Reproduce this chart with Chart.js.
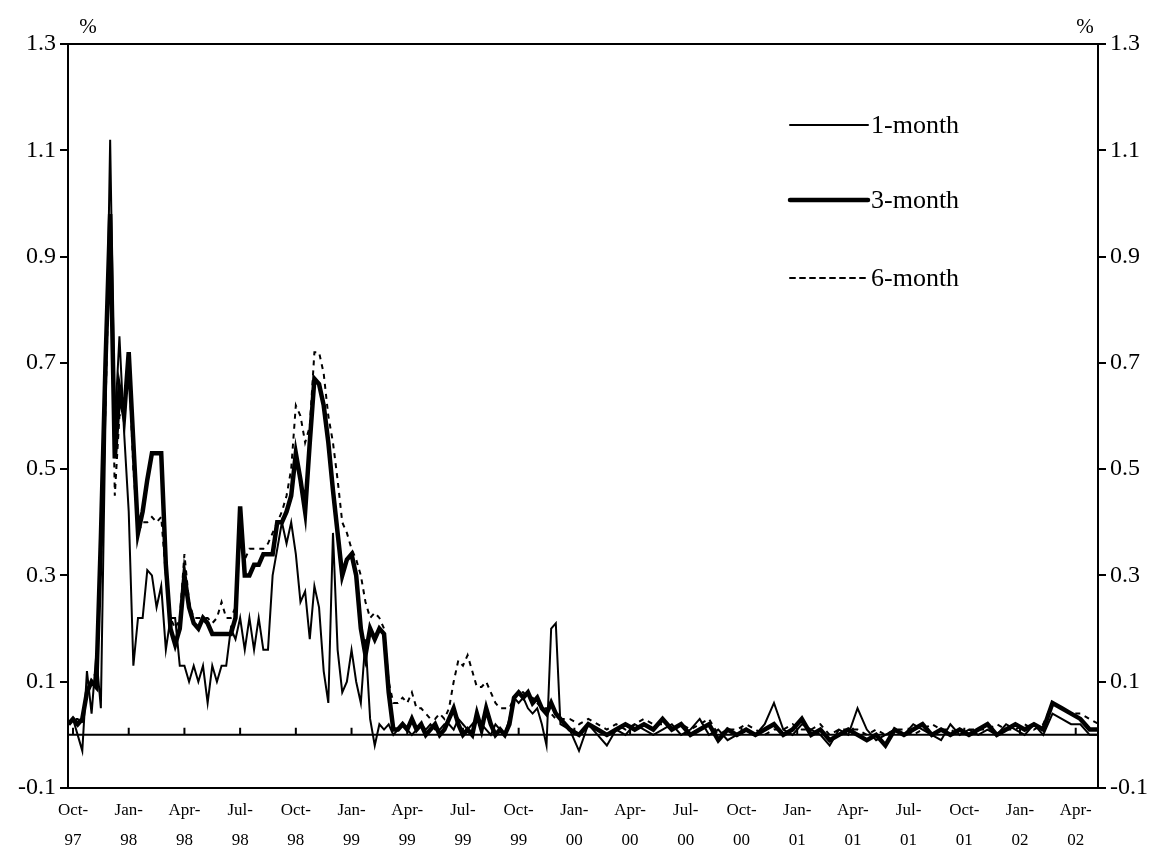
<!DOCTYPE html>
<html>
<head>
<meta charset="utf-8">
<script src="https://cdn.jsdelivr.net/npm/chart.js@4.4.1/dist/chart.umd.min.js"></script>
<style>
  html, body { margin: 0; padding: 0; background: #fff; }
  #wrap { width: 1162px; height: 853px; }
</style>
</head>
<body>
<div id="wrap"><canvas id="chart" width="1162" height="853"></canvas></div>
<script>
// x positions in months since 1 Oct 1997 (weekly-ish to Jan-00, then fortnightly)
const months = [
  -0.25, 0, 0.25, 0.5, 0.75, 1, 1.25, 1.5, 1.75, 2, 2.25, 2.5, 2.75,
  3, 3.25, 3.5, 3.75, 4, 4.25, 4.5, 4.75, 5, 5.25, 5.5, 5.75,
  6, 6.25, 6.5, 6.75, 7, 7.25, 7.5, 7.75, 8, 8.25, 8.5, 8.75,
  9, 9.25, 9.5, 9.75, 10, 10.25, 10.5, 10.75, 11, 11.25, 11.5, 11.75,
  12, 12.25, 12.5, 12.75, 13, 13.25, 13.5, 13.75, 14, 14.25, 14.5, 14.75,
  15, 15.25, 15.5, 15.75, 16, 16.25, 16.5, 16.75, 17, 17.25, 17.5, 17.75,
  18, 18.25, 18.5, 18.75, 19, 19.25, 19.5, 19.75, 20, 20.25, 20.5, 20.75,
  21, 21.25, 21.5, 21.75, 22, 22.25, 22.5, 22.75, 23, 23.25, 23.5, 23.75,
  24, 24.25, 24.5, 24.75, 25, 25.25, 25.5, 25.75, 26, 26.25,
  26.75, 27.25, 27.75, 28.25, 28.75, 29.25, 29.75, 30.25, 30.75, 31.25,
  31.75, 32.25, 32.75, 33.25, 33.75, 34.25, 34.75, 35.25, 35.75, 36.25,
  36.75, 37.25, 37.75, 38.25, 38.75, 39.25, 39.75, 40.25, 40.75, 41.25,
  41.75, 42.25, 42.75, 43.25, 43.75, 44.25, 44.75, 45.25, 45.75, 46.25,
  46.75, 47.25, 47.75, 48.25, 48.75, 49.25, 49.75, 50.25, 50.75, 51.25,
  51.75, 52.25, 52.75, 53.25, 53.75, 54.25, 54.75, 55.25
];

const oneMonth = [
  0.02, 0.03, 0.0, -0.03, 0.12, 0.04, 0.15, 0.05, 0.6, 1.12, 0.58, 0.75, 0.57,
  0.42, 0.13, 0.22, 0.22, 0.31, 0.3, 0.24, 0.28, 0.16, 0.22, 0.22, 0.13,
  0.13, 0.1, 0.13, 0.1, 0.13, 0.06, 0.13, 0.1, 0.13, 0.13, 0.2, 0.18,
  0.22, 0.16, 0.22, 0.16, 0.22, 0.16, 0.16, 0.3, 0.35, 0.4, 0.36, 0.4,
  0.34, 0.25, 0.27, 0.18, 0.28, 0.24, 0.12, 0.06, 0.38, 0.16, 0.08, 0.1,
  0.16, 0.1, 0.06, 0.18, 0.03, -0.02, 0.02, 0.01, 0.02, 0.0, 0.01, 0.02,
  0.01, 0.0, 0.01, 0.02, 0.01, 0.02, 0.01, 0.01, 0.02, 0.02, 0.01, 0.03,
  0.02, 0.01, 0.02, 0.03, 0.02, 0.01, 0.0, 0.02, 0.01, 0.0, 0.03, 0.07,
  0.06, 0.07, 0.05, 0.04, 0.05, 0.02, -0.02, 0.2, 0.21, 0.02,
  0.01, -0.03, 0.02, 0.0, -0.02, 0.01, 0.0, 0.02, 0.01, 0.0,
  0.01, 0.02, 0.0, 0.01, 0.03, 0.0, 0.01, -0.01, 0.0, 0.01,
  0.0, 0.02, 0.06, 0.01, 0.0, 0.02, 0.01, 0.0, -0.02, 0.01,
  0.0, 0.05, 0.01, -0.01, 0.0, 0.01, 0.0, 0.02, 0.01, 0.0,
  -0.01, 0.02, 0.0, 0.01, 0.0, 0.01, 0.0, 0.02, 0.01, 0.0,
  0.02, 0.0, 0.04, 0.03, 0.02, 0.02, 0.0, 0.0
];

const threeMonth = [
  0.02, 0.03, 0.02, 0.03, 0.08, 0.1, 0.09, 0.37, 0.7, 0.98, 0.52, 0.65, 0.6,
  0.72, 0.55, 0.38, 0.42, 0.48, 0.53, 0.53, 0.53, 0.32, 0.2, 0.17, 0.2,
  0.3, 0.24, 0.21, 0.2, 0.22, 0.21, 0.19, 0.19, 0.19, 0.19, 0.19, 0.22,
  0.43, 0.3, 0.3, 0.32, 0.32, 0.34, 0.34, 0.34, 0.4, 0.4, 0.42, 0.45,
  0.53, 0.48, 0.42, 0.55, 0.67, 0.66, 0.62, 0.55, 0.46, 0.38, 0.3, 0.33,
  0.34, 0.3, 0.2, 0.15, 0.2, 0.18, 0.2, 0.19, 0.08, 0.01, 0.01, 0.02,
  0.01, 0.03, 0.01, 0.02, 0.0, 0.01, 0.02, 0.0, 0.01, 0.03, 0.05, 0.02,
  0.0, 0.01, 0.0, 0.04, 0.01, 0.05, 0.02, 0.0, 0.01, 0.0, 0.02, 0.07,
  0.08, 0.07, 0.08, 0.06, 0.07, 0.05, 0.04, 0.06, 0.04, 0.03,
  0.01, 0.0, 0.02, 0.01, 0.0, 0.01, 0.02, 0.01, 0.02, 0.01,
  0.03, 0.01, 0.02, 0.0, 0.01, 0.02, -0.01, 0.01, 0.0, 0.01,
  0.0, 0.01, 0.02, 0.0, 0.01, 0.03, 0.0, 0.01, -0.01, 0.0,
  0.01, 0.0, -0.01, 0.0, -0.02, 0.01, 0.0, 0.01, 0.02, 0.0,
  0.01, 0.0, 0.01, 0.0, 0.01, 0.02, 0.0, 0.01, 0.02, 0.01,
  0.02, 0.01, 0.06, 0.05, 0.04, 0.03, 0.01, 0.01
];

const sixMonth = [
  0.02, 0.03, 0.03, 0.02, 0.09, 0.1, 0.12, 0.32, 0.62, 0.97, 0.45, 0.6, 0.62,
  0.7, 0.5, 0.38, 0.4, 0.4, 0.41, 0.4, 0.41, 0.3, 0.22, 0.2, 0.22,
  0.34, 0.25, 0.22, 0.22, 0.22, 0.22, 0.21, 0.22, 0.25, 0.22, 0.22, 0.24,
  0.4, 0.33, 0.35, 0.35, 0.35, 0.35, 0.36, 0.38, 0.4, 0.42, 0.45, 0.5,
  0.62, 0.6, 0.55, 0.58, 0.72, 0.72, 0.68, 0.6, 0.55, 0.48, 0.4, 0.38,
  0.35, 0.33, 0.3, 0.25, 0.22, 0.23, 0.22, 0.2, 0.1, 0.06, 0.06, 0.07,
  0.06, 0.08, 0.05, 0.05, 0.04, 0.03, 0.03, 0.04, 0.03, 0.05, 0.1, 0.14,
  0.13, 0.15, 0.12, 0.09, 0.09, 0.1, 0.08, 0.06, 0.05, 0.05, 0.05, 0.07,
  0.08, 0.08, 0.07, 0.07, 0.06, 0.05, 0.05, 0.04, 0.03, 0.03,
  0.03, 0.02, 0.03, 0.02, 0.01, 0.02, 0.01, 0.02, 0.03, 0.02,
  0.02, 0.01, 0.02, 0.01, 0.02, 0.03, 0.0, 0.01, 0.01, 0.02,
  0.01, 0.0, 0.01, 0.01, 0.02, 0.01, 0.01, 0.02, 0.0, 0.01,
  0.01, 0.01, 0.0, 0.01, 0.0, 0.01, 0.01, 0.0, 0.01, 0.02,
  0.01, 0.01, 0.0, 0.01, 0.01, 0.01, 0.02, 0.01, 0.01, 0.02,
  0.01, 0.02, 0.06, 0.05, 0.04, 0.04, 0.03, 0.02
];

const quarterLabels = [
  'Oct-97', 'Jan-98', 'Apr-98', 'Jul-98', 'Oct-98', 'Jan-99', 'Apr-99',
  'Jul-99', 'Oct-99', 'Jan-00', 'Apr-00', 'Jul-00', 'Oct-00', 'Jan-01',
  'Apr-01', 'Jul-01', 'Oct-01', 'Jan-02', 'Apr-02'
];
const yTicks = [-0.1, 0.1, 0.3, 0.5, 0.7, 0.9, 1.1, 1.3];

const serif = "'Liberation Serif', 'Times New Roman', serif";

function points(values) {
  return values.map((v, i) => ({ x: months[i], y: v }));
}

// zero line with small quarterly ticks, frame and "%" unit labels
const decorations = {
  id: 'decorations',
  beforeDatasetsDraw(chart) {
    const { ctx, chartArea, scales } = chart;
    const y0 = scales.y.getPixelForValue(0);
    ctx.save();
    ctx.strokeStyle = '#000';
    ctx.lineWidth = 2;
    ctx.beginPath();
    ctx.moveTo(chartArea.left, y0);
    ctx.lineTo(chartArea.right, y0);
    quarterLabels.forEach((_, i) => {
      const x = scales.x.getPixelForValue(i * 3);
      ctx.moveTo(x, y0);
      ctx.lineTo(x, y0 - 7);
    });
    ctx.stroke();
    ctx.restore();
  },
  afterDraw(chart) {
    const { ctx, chartArea } = chart;
    ctx.save();
    ctx.strokeStyle = '#000';
    ctx.lineWidth = 2;
    ctx.strokeRect(chartArea.left, chartArea.top, chartArea.right - chartArea.left, chartArea.bottom - chartArea.top);
    ctx.fillStyle = '#000';
    ctx.font = '21px ' + serif;
    ctx.textAlign = 'center';
    ctx.textBaseline = 'bottom';
    ctx.fillText('%', chartArea.left + 20, chartArea.top - 6);
    ctx.fillText('%', chartArea.right - 13, chartArea.top - 6);
    ctx.restore();
  }
};

// legend drawn inside the plot, top right
const insideLegend = {
  id: 'insideLegend',
  afterDraw(chart) {
    const { ctx, chartArea } = chart;
    const x1 = chartArea.left + 722;
    const x2 = chartArea.left + 800;
    const rows = [81, 156, 234];
    ctx.save();
    ctx.font = '26px ' + serif;
    ctx.fillStyle = '#000';
    ctx.textBaseline = 'middle';
    chart.data.datasets.forEach((ds, i) => {
      const y = chartArea.top + rows[i];
      ctx.strokeStyle = ds.borderColor;
      ctx.lineWidth = ds.borderWidth;
      ctx.setLineDash(ds.borderDash || []);
      ctx.lineCap = 'round';
      ctx.beginPath();
      ctx.moveTo(x1, y);
      ctx.lineTo(x2, y);
      ctx.stroke();
      ctx.setLineDash([]);
      ctx.fillText(ds.label, x2 + 3, y + 1);
    });
    ctx.restore();
  }
};

const yAxis = (position) => ({
  type: 'linear',
  position: position,
  min: -0.1,
  max: 1.3,
  afterBuildTicks: (scale) => { scale.ticks = yTicks.map((v) => ({ value: v })); },
  afterFit: (scale) => { scale.width = position === 'left' ? 68 : 64; },
  ticks: {
    color: '#000',
    font: { family: serif, size: 24 },
    padding: 4,
    callback: (v) => v.toFixed(1)
  },
  grid: { drawOnChartArea: false, drawTicks: true, tickLength: 8, color: '#000', lineWidth: 2 },
  border: { display: true, color: '#000', width: 2 }
});

new Chart(document.getElementById('chart'), {
  type: 'line',
  data: {
    datasets: [
      {
        label: '1-month',
        data: points(oneMonth),
        borderColor: '#000',
        borderWidth: 2,
        pointRadius: 0,
        tension: 0
      },
      {
        label: '3-month',
        data: points(threeMonth),
        borderColor: '#000',
        borderWidth: 4.5,
        pointRadius: 0,
        tension: 0
      },
      {
        label: '6-month',
        data: points(sixMonth),
        borderColor: '#000',
        borderWidth: 2,
        borderDash: [5, 5],
        pointRadius: 0,
        tension: 0
      }
    ]
  },
  options: {
    responsive: false,
    animation: false,
    layout: { padding: { top: 44, left: 0, right: 0, bottom: 0 } },
    plugins: {
      legend: { display: false },
      tooltip: { enabled: false }
    },
    scales: {
      x: {
        type: 'linear',
        min: -0.27,
        max: 55.2,
        afterBuildTicks: (scale) => { scale.ticks = quarterLabels.map((_, i) => ({ value: i * 3 })); },
        afterFit: (scale) => { scale.height = 65; },
        ticks: {
          color: '#000',
          font: { family: serif, size: 17, lineHeight: 1.75 },
          padding: 0,
          maxRotation: 0,
          autoSkip: false,
          callback: (v) => {
            const lab = quarterLabels[Math.round(v / 3)];
            return [lab.slice(0, 4), lab.slice(4)];
          }
        },
        grid: { display: false },
        border: { display: true, color: '#000', width: 2 }
      },
      y: yAxis('left'),
      y2: yAxis('right')
    }
  },
  plugins: [decorations, insideLegend]
});
</script>
</body>
</html>
